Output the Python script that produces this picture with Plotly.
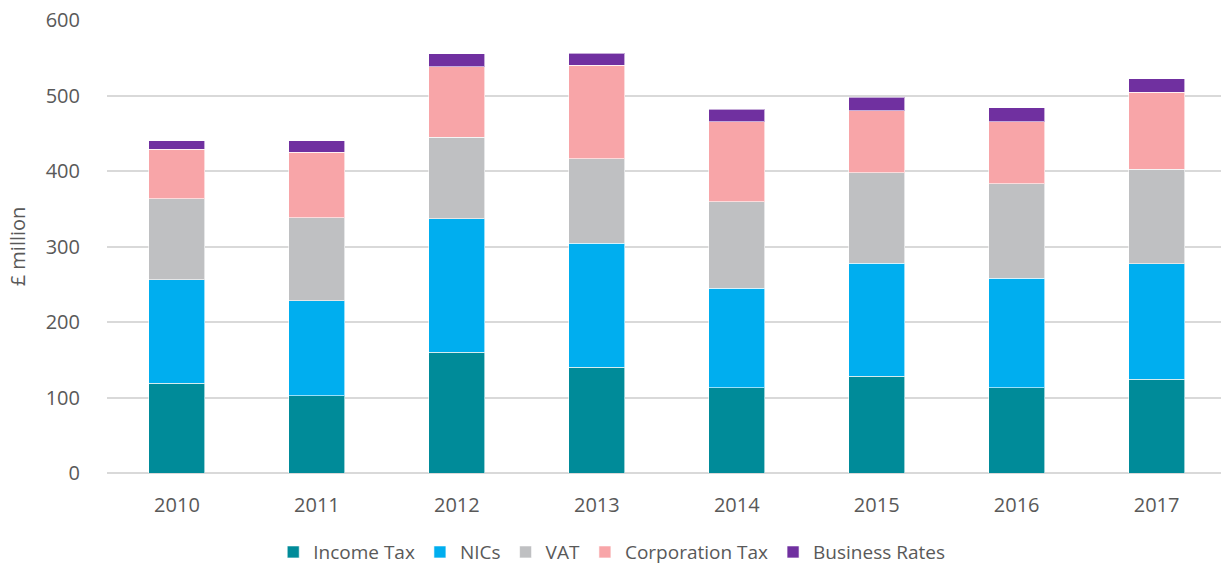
import plotly.graph_objects as go

years = ["2010", "2011", "2012", "2013", "2014", "2015", "2016", "2017"]

income_tax = [119, 102, 160, 140, 113, 128, 113, 124]
nics = [137, 126, 177, 164, 132, 150, 145, 153]
vat = [107, 110, 108, 112, 114, 120, 125, 125]
corporation_tax = [66, 87, 93, 124, 106, 82, 82, 102]
business_rates = [11, 15, 17, 16, 17, 18, 19, 18]

SERIES = [
    ("Income Tax", income_tax, "#008B99"),
    ("NICs", nics, "#00AEEF"),
    ("VAT", vat, "#BFC0C2"),
    ("Corporation Tax", corporation_tax, "#F8A5A8"),
    ("Business Rates", business_rates, "#7030A0"),
]

FONT = "Open Sans, Noto Sans, sans-serif"
TEXT_COLOR = "#595959"

fig = go.Figure()

for name, values, color in SERIES:
    fig.add_trace(
        go.Bar(
            x=years,
            y=values,
            name=name,
            marker=dict(
                color=color,
                line=dict(width=1, color="rgba(255,255,255,0.6)")
            ),
            hovertemplate=f"<b>{name}</b><br>%{{x}}: %{{y}}<extra></extra>"
        )
    )

fig.update_layout(
    barmode="stack",
    bargap=0.6,
    width=1221,
    height=568,
    margin=dict(l=107, r=0, t=20, b=95),
    paper_bgcolor="white",
    plot_bgcolor="white",
    font=dict(family=FONT, size=20, color=TEXT_COLOR),
    xaxis=dict(
        type="category",
        range=[-0.5, 7.46],
        showgrid=False,
        zeroline=False,
        showline=False,
        ticks="",
        ticklabelstandoff=18,
        tickfont=dict(family=FONT, size=20, color=TEXT_COLOR)
    ),
    yaxis=dict(
        range=[0, 600],
        tickvals=[0, 100, 200, 300, 400, 500, 600],
        showgrid=True,
        gridcolor="#D9D9D9",
        gridwidth=1.5,
        zeroline=True,
        zerolinecolor="#D9D9D9",
        zerolinewidth=1.5,
        showline=False,
        ticks="",
        ticklabelstandoff=26,
        tickfont=dict(family=FONT, size=20, color=TEXT_COLOR),
        title=dict(
            text="£ million",
            standoff=14,
            font=dict(family=FONT, size=20, color=TEXT_COLOR)
        )
    ),
    legend=dict(
        orientation="h",
        xref="container",
        yref="container",
        x=0.501,
        xanchor="center",
        y=0.028,
        yanchor="middle",
        font=dict(family=FONT, size=19, color=TEXT_COLOR),
        itemwidth=30,
        traceorder="normal"
    ),
    showlegend=True
)

# the page body has a default 8px margin; drop it so the figure fills the window
fig.write_html(
    "out.html",
    config={"displayModeBar": False},
    post_script="document.body.style.margin='0';"
)
